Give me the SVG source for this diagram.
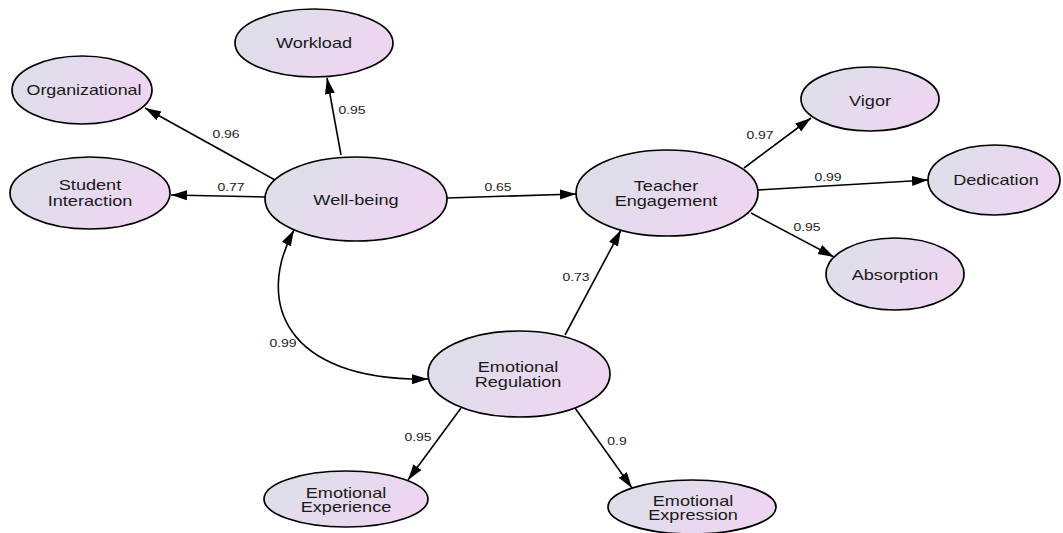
<svg xmlns="http://www.w3.org/2000/svg" width="1063" height="533" viewBox="0 0 1063 533">
<defs>
<linearGradient id="g" x1="0" y1="0.3" x2="1" y2="0.7">
<stop offset="0" stop-color="#dcdfe8"/>
<stop offset="0.5" stop-color="#e6daee"/>
<stop offset="1" stop-color="#efd5f1"/>
</linearGradient>
<marker id="ah" markerUnits="userSpaceOnUse" markerWidth="18" markerHeight="12" refX="16" refY="5" orient="auto-start-reverse" viewBox="0 0 18 10">
<path d="M0,0 L16,5 L0,10 z" fill="#000"/>
</marker>
</defs>
<style>
.n{fill:url(#g);stroke:#000;stroke-width:1.7}
.t{font-family:"Liberation Sans",Arial,sans-serif;font-size:14.5px;fill:#1a1a1a;text-anchor:middle}
.l{font-family:"Liberation Sans",Arial,sans-serif;font-size:11px;fill:#222;text-anchor:middle}
.c{fill:none;stroke:#000;stroke-width:1.6;marker-end:url(#ah)}
</style>
<rect width="1063" height="533" fill="#fff"/>
<g id="connectors">
<path class="c" d="M341,155 L327,78"/>
<path class="c" d="M275,180 L145,108"/>
<path class="c" d="M265,197 L171,195"/>
<path class="c" d="M447,198 L576,194"/>
<path class="c" d="M565,335 L621,230"/>
<path class="c" d="M744,168 L811,118"/>
<path class="c" d="M758,190 L928,180"/>
<path class="c" d="M751,213 L834,257"/>
<path class="c" d="M461,408 L408,480"/>
<path class="c" d="M575,408 L632,488"/>
<path class="c" d="M294,230 C256,300 282,381 428,379" marker-start="url(#ah)"/>
<text class="l" transform="translate(352,114) scale(1.27,1)">0.95</text>
<text class="l" transform="translate(226,138) scale(1.27,1)">0.96</text>
<text class="l" transform="translate(231,191) scale(1.27,1)">0.77</text>
<text class="l" transform="translate(498,191) scale(1.27,1)">0.65</text>
<text class="l" transform="translate(576,281) scale(1.27,1)">0.73</text>
<text class="l" transform="translate(760,139) scale(1.27,1)">0.97</text>
<text class="l" transform="translate(828,181) scale(1.27,1)">0.99</text>
<text class="l" transform="translate(807,231) scale(1.27,1)">0.95</text>
<text class="l" transform="translate(418,441) scale(1.27,1)">0.95</text>
<text class="l" transform="translate(617,445) scale(1.27,1)">0.9</text>
<text class="l" transform="translate(283,347) scale(1.27,1)">0.99</text>
</g>
<g id="workload"><ellipse class="n" cx="314" cy="43" rx="79" ry="34"/><text class="t" transform="translate(314,48) scale(1.25,1)">Workload</text></g>
<g id="organizational"><ellipse class="n" cx="82" cy="90" rx="70" ry="34"/><text class="t" transform="translate(84,95) scale(1.23,1)">Organizational</text></g>
<g id="student"><ellipse class="n" cx="90" cy="193" rx="80" ry="36"/><text class="t" transform="translate(90,190) scale(1.25,1)"><tspan x="0">Student</tspan><tspan x="0" dy="16">Interaction</tspan></text></g>
<g id="wellbeing"><ellipse class="n" cx="356" cy="199" rx="91" ry="42"/><text class="t" transform="translate(356,205) scale(1.25,1)">Well-being</text></g>
<g id="teacher"><ellipse class="n" cx="667" cy="193" rx="91" ry="43"/><text class="t" transform="translate(666,191) scale(1.25,1)"><tspan x="0">Teacher</tspan><tspan x="0" dy="15">Engagement</tspan></text></g>
<g id="vigor"><ellipse class="n" cx="870" cy="99" rx="69" ry="32"/><text class="t" transform="translate(870,106) scale(1.25,1)">Vigor</text></g>
<g id="dedication"><ellipse class="n" cx="994" cy="180" rx="66" ry="35"/><text class="t" transform="translate(996,185) scale(1.25,1)">Dedication</text></g>
<g id="absorption"><ellipse class="n" cx="895" cy="274" rx="69" ry="36"/><text class="t" transform="translate(895,280) scale(1.25,1)">Absorption</text></g>
<g id="regulation"><ellipse class="n" cx="519" cy="374" rx="91" ry="43"/><text class="t" transform="translate(518,372) scale(1.25,1)"><tspan x="0">Emotional</tspan><tspan x="0" dy="15">Regulation</tspan></text></g>
<g id="experience"><ellipse class="n" cx="346" cy="499" rx="82" ry="28"/><text class="t" transform="translate(346,498) scale(1.25,1)"><tspan x="0">Emotional</tspan><tspan x="0" dy="14">Experience</tspan></text></g>
<g id="expression"><ellipse class="n" cx="692" cy="507" rx="84" ry="27"/><text class="t" transform="translate(693,506) scale(1.25,1)"><tspan x="0">Emotional</tspan><tspan x="0" dy="14">Expression</tspan></text></g>
</svg>
